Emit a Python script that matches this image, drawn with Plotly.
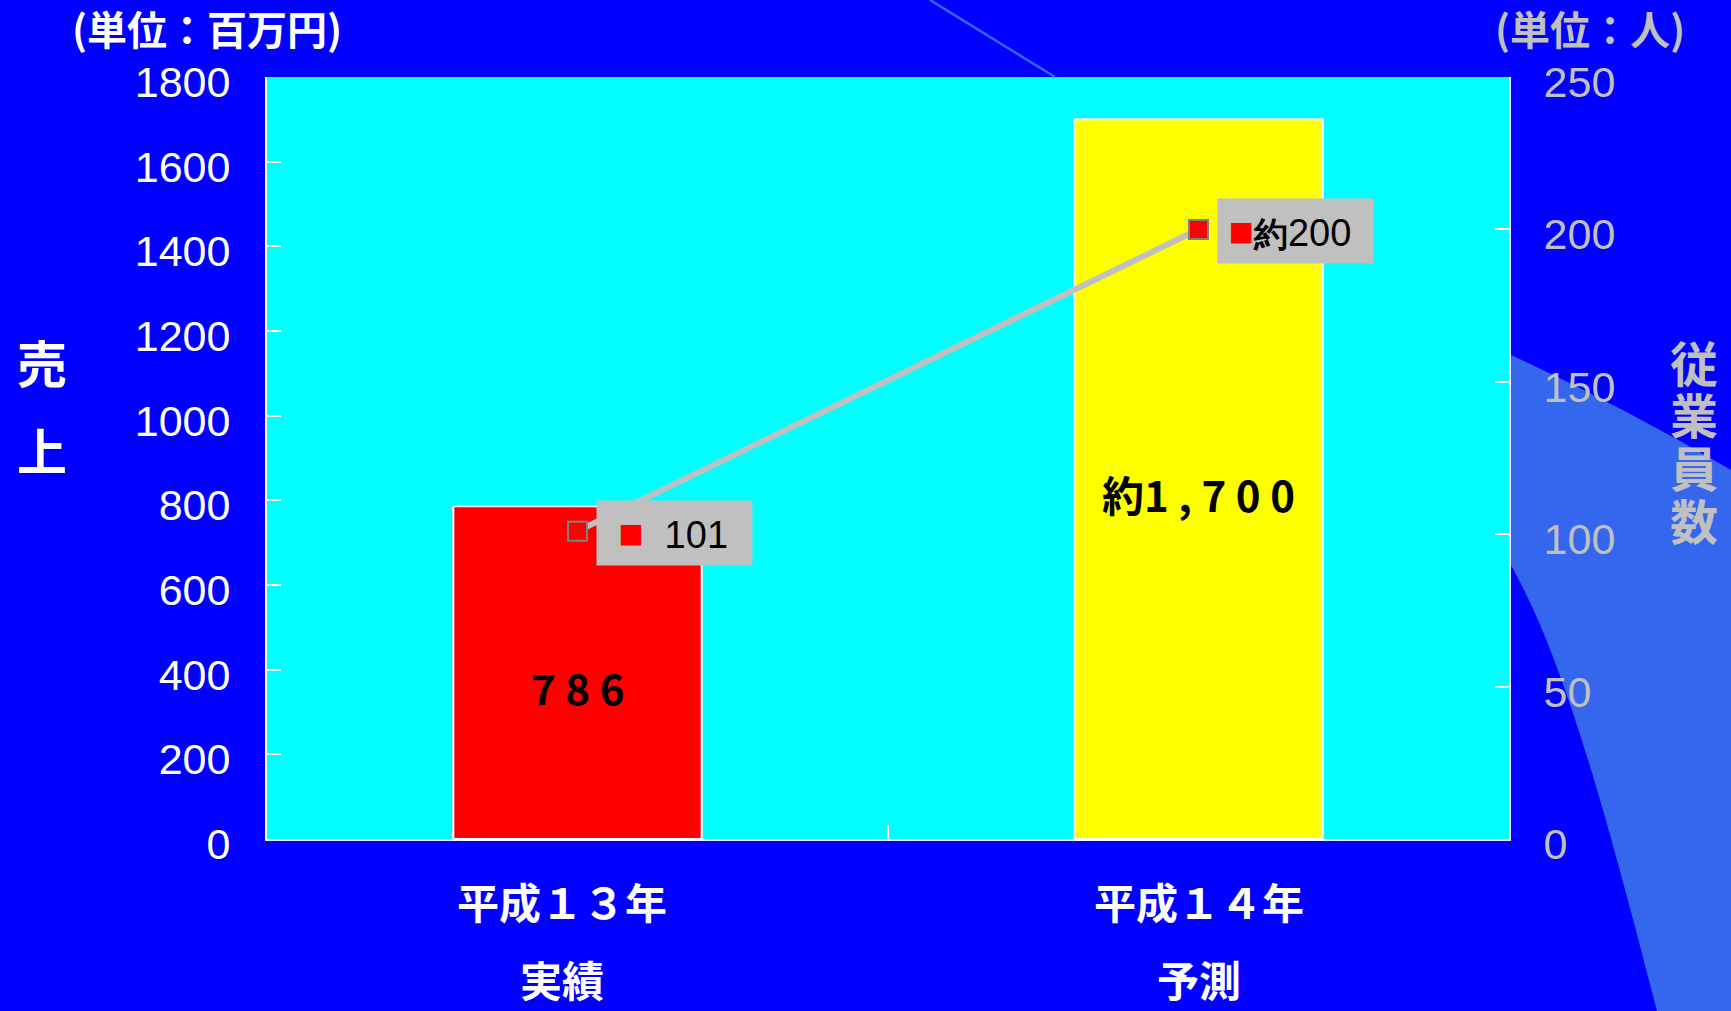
import plotly.graph_objects as go

# ---- data ----
categories = ["平成１３年", "平成１４年"]
sub_labels = ["実績", "予測"]
sales = [786, 1700]                      # 百万円 (left axis)
sales_text = ["7 8 6", "約1 , 7 0 0"]
employees = [101, 200]                   # 人 (right axis)
employee_text = ["101", "約200"]
left_ticks = list(range(0, 1801, 200))
right_ticks = list(range(0, 251, 50))

# ---- styles ----
bar_colors = ["#FF0000", "#FFFF00"]
W, H = 1731, 1011
L, R, T, B = 267, 222, 77, 172
PW, PH = W - L - R, H - T - B
GRAY = "#C0C0C0"
JP = "Noto Sans CJK JP"
NUM = "Liberation Sans, Arial, sans-serif"


def px(x):
    return (x - L) / PW


def py(y):
    return (H - B - y) / PH


fig = go.Figure()
fig.add_trace(go.Bar(
    x=categories, y=sales, width=0.4,
    marker=dict(color=bar_colors, line=dict(color="white", width=2)),
    hoverinfo="skip", showlegend=False,
))
fig.add_trace(go.Scatter(
    x=categories, y=employees, yaxis="y2", mode="lines+markers",
    line=dict(color=GRAY, width=6),
    marker=dict(symbol="square", size=19, color="#FF0000",
                line=dict(color="#808080", width=2)),
    hoverinfo="skip", showlegend=False,
))

ann = []
# bar value labels
for c, v, t in zip(categories, sales, sales_text):
    ann.append(dict(x=c, y=v / 2, xref="x", yref="y", text=t, showarrow=False,
                    xanchor="center", yanchor="middle", yshift=-14,
                    font=dict(family=JP, size=42, color="black", weight="bold")))
# line value labels (grey boxes with legend key)
for c, v, t in zip(categories, employees, employee_text):
    if t.startswith("約"):
        body = "<b style='font-size:34px'>約</b>" + t[1:]
        lead, pad = "\u00a0", ""
    else:
        body = t
        lead, pad = "\u00a0\u00a0", "\u00a0\u00a0"
    txt = lead + "<span style='color:#FF0000;font-size:42px'>■</span>" + pad + body
    ann.append(dict(x=c, y=v, xref="x", yref="y2", text=txt, showarrow=False,
                    xanchor="left", yanchor="middle", xshift=18, yshift=-2,
                    bgcolor=GRAY, width=155, height=64, align="left", valign="middle",
                    borderpad=0, font=dict(family=NUM, size=38, color="black")))
# category labels
for c, s in zip(categories, sub_labels):
    shift = -16 if c.endswith("３年") else 0
    ann.append(dict(x=c, y=py(900), xref="x", yref="paper", text=c, showarrow=False,
                    xanchor="center", yanchor="middle", xshift=shift,
                    font=dict(family=JP, size=42, color="white", weight="bold")))
    ann.append(dict(x=c, y=py(978), xref="x", yref="paper", text=s, showarrow=False,
                    xanchor="center", yanchor="middle", xshift=shift,
                    font=dict(family=JP, size=42, color="white", weight="bold")))
# unit titles
ann.append(dict(x=px(207), y=py(28), xref="paper", yref="paper", text="(単位：百万円)",
                showarrow=False, xanchor="center", yanchor="middle",
                font=dict(family=JP, size=40, color="white", weight="bold")))
ann.append(dict(x=px(1590), y=py(28), xref="paper", yref="paper", text="(単位：人)",
                showarrow=False, xanchor="center", yanchor="middle",
                font=dict(family=JP, size=40, color=GRAY, weight="bold")))
# axis titles (vertical stacked characters)
for ch, yy in zip("売上", [361, 449]):
    ann.append(dict(x=px(42), y=py(yy), xref="paper", yref="paper", text=ch, showarrow=False,
                    xanchor="center", yanchor="middle",
                    font=dict(family=JP, size=50, color="white", weight="bold")))
for ch, yy in zip("従業員数", [361, 413, 466, 519]):
    ann.append(dict(x=px(1694), y=py(yy), xref="paper", yref="paper", text=ch, showarrow=False,
                    xanchor="center", yanchor="middle",
                    font=dict(family=JP, size=48, color=GRAY, weight="bold")))

# decorative background band
path = "M {} {} Q {} {} {} {} L {} {} L {} {} ".format(
    px(1509), py(354), px(1620), py(405), px(1731), py(470), px(1731), py(1011), px(1657), py(1011))
path += "C {} {} {} {} {} {} Z".format(px(1600), py(790), px(1560), py(650), px(1509), py(562))
shapes = [
    dict(type="path", path=path, xref="paper", yref="paper", layer="below",
         fillcolor="#3466EE", line=dict(width=0)),
    dict(type="line", x0=px(930), y0=py(0), x1=px(1055), y1=py(77), xref="paper", yref="paper",
         layer="below", line=dict(color="#3366FF", width=2.5)),
]

fig.update_layout(
    width=W, height=H,
    margin=dict(l=L, r=R, t=T, b=B, pad=0),
    paper_bgcolor="#0000FF", plot_bgcolor="#00FFFF",
    annotations=ann, shapes=shapes,
    xaxis=dict(type="category", range=[-0.5, 1.5], showticklabels=False,
               showline=True, linecolor="white", linewidth=2,
               ticks="inside", tickson="boundaries", ticklen=14, tickwidth=2, tickcolor="white",
               showgrid=False, zeroline=False, fixedrange=True),
    yaxis=dict(range=[0, 1800], tickvals=left_ticks, showgrid=False, zeroline=False,
               showline=True, linecolor="white", linewidth=2,
               ticks="inside", ticklen=14, tickwidth=2, tickcolor="white",
               ticklabelstandoff=26, ticklabelshift=5,
               tickfont=dict(family=NUM, size=43, color="white")),
    yaxis2=dict(range=[0, 250], tickvals=right_ticks, overlaying="y", side="right",
                showgrid=False, zeroline=False,
                showline=True, linecolor="white", linewidth=2,
                ticks="inside", ticklen=14, tickwidth=2, tickcolor="white",
                ticklabelstandoff=24, ticklabelshift=5,
                tickfont=dict(family=NUM, size=43, color=GRAY)),
)

fig.write_html(
    "out.html",
    config={"displayModeBar": False},
    post_script="document.body.style.margin='0';document.body.style.background='#0000FF';",
)
